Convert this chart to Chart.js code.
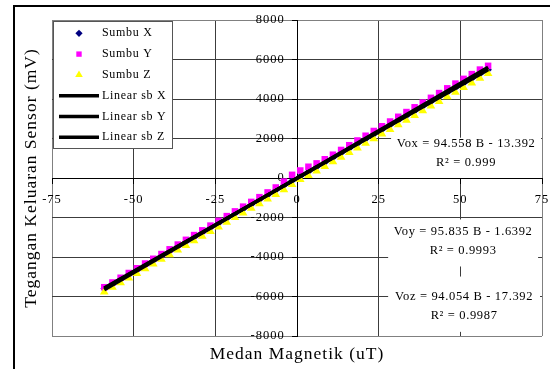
<!DOCTYPE html>
<html>
<head>
<meta charset="utf-8">
<script src="https://cdn.jsdelivr.net/npm/chart.js@4.4.1/dist/chart.umd.min.js"></script>
<style>
  html, body { margin: 0; padding: 0; background: #fff; }
  #wrap { width: 550px; height: 369px; }
</style>
</head>
<body>
<div id="wrap"><canvas id="grafik" width="550" height="369"></canvas></div>
<script>
// Medan magnet (uT) pada tiap titik ukur
const medanB = [-59, -56.5, -54, -51.5, -49, -46.5, -44, -41.5, -39, -36.5, -34, -31.5,
  -29, -26.5, -24, -21.5, -19, -16.5, -14, -11.5, -9, -6.5, -4, -1.5,
  1, 3.5, 6, 8.5, 11, 13.5, 16, 18.5, 21, 23.5, 26, 28.5, 31, 33.5, 36, 38.5,
  41, 43.5, 46, 48.5, 51, 53.5, 56, 58.5];

// Tegangan keluaran sensor (mV) per sumbu
const sumbuX = [-5600, -5360, -5130, -4890, -4650, -4420, -4180, -3940, -3710, -3470, -3230, -3000,
  -2760, -2520, -2290, -2050, -1810, -1580, -1340, -1100, -870, -620, -380, -140,
  90, 320, 560, 790, 1030, 1260, 1500, 1740, 1970, 2210, 2440, 2680, 2920, 3150, 3390, 3630,
  3860, 4100, 4330, 4570, 4800, 5040, 5270, 5480];
const sumbuY = [-5530, -5290, -5050, -4810, -4570, -4330, -4090, -3850, -3610, -3370, -3130, -2890,
  -2650, -2410, -2170, -1930, -1690, -1450, -1210, -970, -730, -480, -180, 160,
  380, 570, 740, 950, 1180, 1420, 1660, 1900, 2140, 2380, 2620, 2860, 3100, 3340, 3580, 3820,
  4060, 4300, 4540, 4780, 5020, 5260, 5490, 5680];
const sumbuZ = [-5770, -5530, -5300, -5060, -4830, -4590, -4360, -4120, -3890, -3650, -3420, -3180,
  -2950, -2710, -2480, -2240, -2000, -1770, -1530, -1300, -1060, -830, -590, -330,
  -80, 130, 350, 580, 820, 1050, 1290, 1520, 1760, 1990, 2230, 2460, 2700, 2930, 3170, 3400,
  3640, 3870, 4110, 4340, 4580, 4810, 5050, 5290];

// Regresi linear tiap sumbu: Vo = a*B + b
const namaSumbu = ['Vox', 'Voy', 'Voz'];
const kemiringan = [94.558, 95.835, 94.054];
const intersep = [-13.392, -1.6392, -17.392];
const nilaiR2 = ['0.999', '0.9993', '0.9987'];

// Label sumbu
const tickX = [-75, -50, -25, 0, 25, 50, 75];
const tickY = [-8000, -6000, -4000, -2000, 0, 2000, 4000, 6000, 8000];

const FONT = "'Liberation Serif', 'Times New Roman', serif";

const titik = (ys) => medanB.map((b, i) => ({ x: b, y: ys[i] }));
const bMin = Math.min(...medanB), bMax = Math.max(...medanB);
const garisTren = (k) => [bMin, bMax].map(b => ({ x: b, y: kemiringan[k] * b + intersep[k] }));

// Kotak persamaan, dalam koordinat nilai sumbu
const kotakPersamaan = [
  { x0: 28.8, x1: 75,   y0: 2040,  y1: 0,     baris: [1750, 790] },
  { x0: 27.9, x1: 73.8, y0: -2100, y1: -4480, baris: [-2720, -3670] },
  { x0: 27.9, x1: 74.4, y0: -4990, y1: -7790, baris: [-5990, -6950] }
];

const fmtEq = (k) => {
  const b = intersep[k];
  return namaSumbu[k] + ' = ' + kemiringan[k] + ' B ' + (b < 0 ? '- ' : '+ ') + Math.abs(b);
};

const latarDanBingkai = {
  id: 'latarDanBingkai',
  beforeDraw(chart) {
    const ctx = chart.ctx;
    ctx.save();
    ctx.fillStyle = '#fff';
    ctx.fillRect(0, 0, chart.width, chart.height);
    ctx.strokeStyle = '#000';
    ctx.lineWidth = 2;
    ctx.strokeRect(14, 6, chart.width, chart.height);
    ctx.restore();
    ctx.letterSpacing = '1px';
  }
};

const legendaDalam = {
  id: 'legendaDalam',
  afterDraw(chart) {
    const ctx = chart.ctx;
    const a = chart.chartArea;
    const L = a.left + 1, T = a.top + 1, W = 119, H = 127;
    ctx.save();
    ctx.fillStyle = '#fff';
    ctx.fillRect(L, T, W, H);
    ctx.strokeStyle = '#555';
    ctx.lineWidth = 1;
    ctx.strokeRect(L + 0.5, T + 0.5, W, H);
    ctx.letterSpacing = '0.7px';
    ctx.font = '12px ' + FONT;
    ctx.textBaseline = 'middle';
    ctx.textAlign = 'left';
    chart.data.datasets.forEach((ds, i) => {
      const y = T + 12.3 + i * 20.8;
      if (ds.showLine) {
        ctx.strokeStyle = ds.borderColor;
        ctx.lineWidth = 3.5;
        ctx.beginPath();
        ctx.moveTo(L + 6, y);
        ctx.lineTo(L + 46, y);
        ctx.stroke();
      } else {
        ctx.fillStyle = ds.backgroundColor;
        ctx.strokeStyle = ds.borderColor;
        Chart.helpers.drawPoint(ctx, {
          pointStyle: ds.pointStyle, radius: ds.legendRadius, rotation: 0, borderWidth: 0
        }, L + 26, y);
      }
      ctx.fillStyle = '#000';
      ctx.fillText(ds.label, L + 49, y);
    });
    ctx.restore();
  }
};

const persamaan = {
  id: 'persamaan',
  afterDraw(chart) {
    const ctx = chart.ctx;
    const sx = chart.scales.x, sy = chart.scales.y;
    ctx.save();
    ctx.letterSpacing = '0.65px';
    ctx.textAlign = 'center';
    ctx.textBaseline = 'middle';
    kotakPersamaan.forEach((k, i) => {
      const x0 = sx.getPixelForValue(k.x0), x1 = Math.min(sx.getPixelForValue(k.x1), chart.chartArea.right - 1);
      const y0 = sy.getPixelForValue(k.y0), y1 = sy.getPixelForValue(k.y1);
      ctx.fillStyle = '#fff';
      ctx.fillRect(x0, y0, x1 - x0, y1 - y0);
      const cx = (x0 + x1) / 2;
      ctx.fillStyle = '#000';
      ctx.font = '12.5px ' + FONT;
      ctx.fillText(fmtEq(i), cx, sy.getPixelForValue(k.baris[0]));
      ctx.fillText('R\u00B2 = ' + nilaiR2[i], cx, sy.getPixelForValue(k.baris[1]));
    });
    ctx.restore();
  }
};

const warnaGrid = (tepi) => (c) =>
  (c.tick && tepi.includes(c.tick.value)) ? '#808080' : '#3c3c3c';

new Chart(document.getElementById('grafik'), {
  type: 'scatter',
  data: {
    datasets: [
      { label: 'Sumbu X', data: titik(sumbuX), pointStyle: 'rectRot', pointRadius: 3.8, legendRadius: 3.6,
        backgroundColor: '#000080', borderColor: '#000080', borderWidth: 0, order: 3 },
      { label: 'Sumbu Y', data: titik(sumbuY), pointStyle: 'rect', pointRadius: 4.6, legendRadius: 3.8,
        backgroundColor: '#FF00FF', borderColor: '#FF00FF', borderWidth: 0, order: 2 },
      { label: 'Sumbu Z', data: titik(sumbuZ), pointStyle: 'triangle', pointRadius: 5, legendRadius: 4.4,
        backgroundColor: '#FFFF00', borderColor: '#FFFF00', borderWidth: 0, order: 1 },
      { label: 'Linear sb X', data: garisTren(0), showLine: true, pointRadius: 0,
        borderColor: '#000', borderWidth: 3.5, backgroundColor: '#000', order: 0 },
      { label: 'Linear sb Y', data: garisTren(1), showLine: true, pointRadius: 0,
        borderColor: '#000', borderWidth: 3.5, backgroundColor: '#000', order: 0 },
      { label: 'Linear sb Z', data: garisTren(2), showLine: true, pointRadius: 0,
        borderColor: '#000', borderWidth: 3.5, backgroundColor: '#000', order: 0 }
    ]
  },
  options: {
    responsive: false,
    animation: false,
    devicePixelRatio: 1,
    layout: { autoPadding: false, padding: { left: 14, top: 20, right: 8, bottom: 0 } },
    plugins: {
      legend: { display: false },
      tooltip: { enabled: false },
      title: {
        display: true, position: 'bottom', fullSize: false,
        text: 'Medan Magnetik (uT)', color: '#000',
        font: { family: FONT, size: 17.5, weight: 'normal' },
        padding: { top: 7.5, bottom: 4.5 }
      },
      subtitle: {
        display: true, position: 'left', fullSize: false,
        text: 'Tegangan Keluaran Sensor (mV)', color: '#000',
        font: { family: FONT, size: 17.5, weight: 'normal' },
        padding: { top: 6.5, bottom: 10.5 }
      }
    },
    scales: {
      x: {
        type: 'linear', position: { y: 0 },
        min: tickX[0], max: tickX[tickX.length - 1],
        afterBuildTicks: (s) => { s.ticks = tickX.map(v => ({ value: v })); },
        grid: { color: warnaGrid([tickX[0], tickX[tickX.length - 1]]), lineWidth: 1,
                drawTicks: true, tickLength: 5, tickColor: '#000' },
        border: { display: true, color: '#000', width: 1 },
        // jarak label ke sumbu diatur lewat tinggi baris agar tepi kanan area plot tidak menyusut
        ticks: { color: '#000', padding: 0, maxRotation: 0, autoSkip: false,
                 font: { family: FONT, size: 12.5, lineHeight: 2.75 }, callback: (v) => String(v) }
      },
      y: {
        type: 'linear', position: { x: 0 },
        min: tickY[0], max: tickY[tickY.length - 1],
        afterBuildTicks: (s) => { s.ticks = tickY.map(v => ({ value: v })); },
        grid: { color: warnaGrid([tickY[0], tickY[tickY.length - 1]]), lineWidth: 1,
                drawTicks: true, tickLength: 5, tickColor: '#000' },
        border: { display: true, color: '#000', width: 1 },
        // label sumbu tegak digambar rata kanan tepat di garis sumbu; spasi di belakang memberi jarak
        ticks: { color: '#000', autoSkip: false,
                 font: { family: FONT, size: 12.5 }, callback: (v) => String(v) + '   ' }
      }
    }
  },
  plugins: [latarDanBingkai, legendaDalam, persamaan]
});
</script>
</body>
</html>
